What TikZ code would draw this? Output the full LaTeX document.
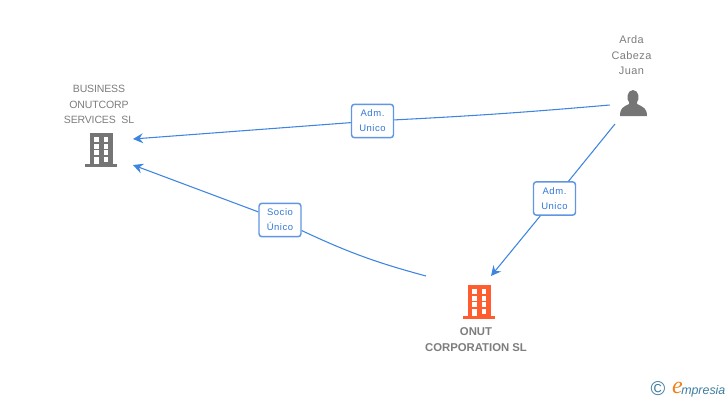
\documentclass[tikz,border=0pt]{standalone}
\usepackage{fontspec}
\setmainfont{Liberation Sans}
\definecolor{linkblue}{RGB}{61,133,224}
\definecolor{boxblue}{RGB}{96,150,228}
\definecolor{labelblue}{RGB}{50,120,215}
\definecolor{icongray}{RGB}{117,117,117}
\definecolor{textgray}{RGB}{125,125,125}
\definecolor{onutorange}{RGB}{255,92,48}
\definecolor{logoteal}{RGB}{62,125,160}
\definecolor{logoorange}{RGB}{240,130,30}
\usetikzlibrary{arrows.meta, positioning}
\tikzset{
  linkline/.style={draw=linkblue, line width=0.8pt},
  linkarrow/.style={linkline, -{Stealth[length=7.5pt, width=7.5pt, inset=2.6pt]}},
  relbox/.style={draw=boxblue, line width=1.1pt, rounded corners=2.2pt, fill=white, minimum width=31.5pt, minimum height=25pt, inner sep=0pt, align=center, text=labelblue, font=\fontsize{7.1}{11.4}\addfontfeatures{LetterSpace=6}\selectfont},
  nametext/.style={align=center, inner sep=0pt, text=textgray, font=\fontsize{7.9}{11.6}\addfontfeatures{LetterSpace=-1.5}\selectfont},
  iconbox/.style={inner sep=0pt, minimum width=34.5pt, minimum height=30pt},
  pics/building/.style={code={
    \fill[#1] (-11,-17) rectangle (12,14);
    \fill[#1] (-16,14) rectangle (16,17);
    \foreach \wy in {-13,-6,0} {
      \fill[white] (-7,\wy) rectangle (-2.4,\wy+4.6);
      \fill[white] (2.6,\wy) rectangle (7.4,\wy+4.6);
    }
    \fill[white] (-7,7) rectangle (-2.4,14);
    \fill[white] (2.6,7) rectangle (7.4,11.6);
  }}
}
\begin{document}
\begin{tikzpicture}[x=0.75pt, y=-0.75pt]
  \useasboundingbox (0,0) rectangle (728,400);
  % Company on the left
  \node[nametext] (businessname) at (99,104.5) {BUSINESS\\ONUTCORP\\SERVICES~ SL};
  \node[iconbox] (business) at (101,150) {};
  \pic at (101,150) {building=icongray};
  % Person
  \node[nametext, font=\fontsize{8.2}{11.6}\addfontfeatures{LetterSpace=4}\selectfont] (ardaname) at (631.5,55.5) {Arda\\Cabeza\\Juan};
  \node[iconbox] (arda) at (633,105) {};
  \fill[icongray] (620,116) .. controls (620,108) and (623,107) .. (629,104)
    -- (629,102) .. controls (626,100) and (627,90) .. (633,90)
    .. controls (639,90) and (640,100) .. (637,102) -- (637,104)
    .. controls (643,107) and (647,108) .. (647,116) -- cycle;
  % Company at the bottom
  \pic at (479,302) {building=onutorange};
  \node[iconbox] (onut) at (479,302) {};
  \node[nametext, font=\fontsize{8.5}{11.6}\bfseries\selectfont] (onutname) at (476,339.5) {ONUT\\CORPORATION SL};
  \coordinate (businesstop) at (133,139);
  \coordinate (businessbot) at (133,165);
  \coordinate (onutleft) at (426,276);
  \coordinate (onuttop) at (491,276);
  \coordinate (ardalow) at (615,124);
  % Relation labels
  \node[relbox] (admone) at (372.5,121) {Adm.\\Unico};
  \node[relbox] (socio) at (280,220) {Socio\\Único};
  \node[relbox] (admtwo) at (554.5,198.5) {Adm.\\Unico};
  % Links
  \draw[linkarrow] (admone) -- (businesstop);
  \draw[linkline] (arda.west) to[bend left=1] (admone);
  \draw[linkarrow] (socio) -- (businessbot);
  \draw[linkline] (onutleft) to[bend left=5] (socio);
  \draw[linkline] (ardalow) -- (admtwo);
  \draw[linkarrow] (admtwo) -- (onuttop);
  % Logo
  \node[inner sep=0pt, text=logoteal, font=\fontsize{15}{15}\selectfont] (logoc) at (658,389) {©};
  \node[inner sep=0pt, text=logoorange, font=\fontsize{18}{18}\itshape\fontspec{Liberation Serif}] (logoe) at (677.5,388) {e};
  \node[inner sep=0pt, text=logoteal, font=\fontsize{9.3}{10}\itshape\selectfont, anchor=west] (logotext) at (681,391) {mpresia};
\end{tikzpicture}
\end{document}
